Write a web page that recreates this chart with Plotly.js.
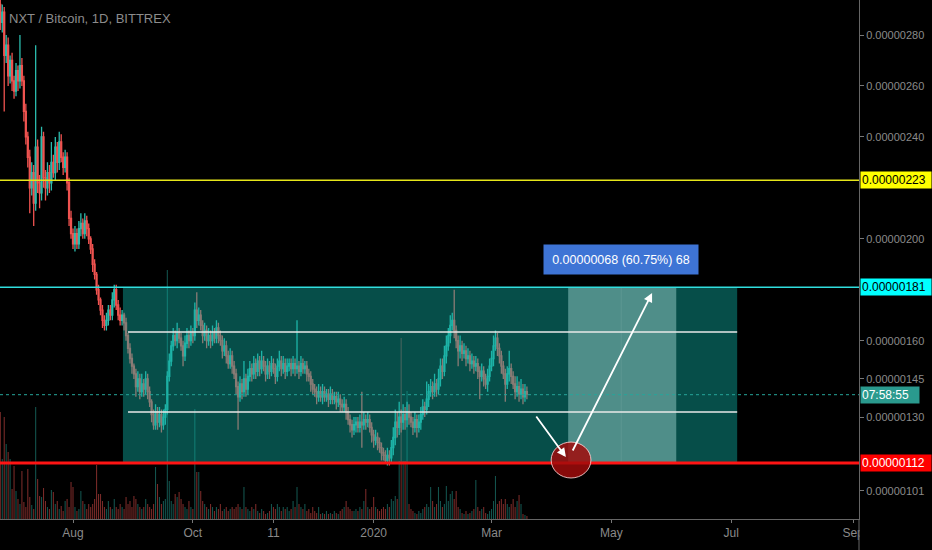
<!DOCTYPE html>
<html><head><meta charset="utf-8">
<script src="https://cdn.plot.ly/plotly-3.0.1.min.js"></script>
<style>html,body{margin:0;padding:0;background:#000;}#chart{width:932px;height:550px;}</style>
</head><body><div id="chart"></div>
<script>
// Daily candles NXT/BTC (values in satoshi), starting 2019-06-25
const startDate = [2019, 5, 25];
const firstOpen = 292;
const closes = [
285,289,272,276,264,270,262,258,266,262,
268,262,250,240,232,220,226,214,236,222,
218,240,224,220,226,222,230,226,236,230,
238,232,228,232,222,208,202,198,202,198,
204,206,202,207,204,200,196,190,186,180,
176,172,168,166,168,172,170,176,180,174,
170,168,170,167,162,157,153,150,147,142,
145,140,143,141,145,140,136,131,127,132,
128,131,127,130,133,146,152,158,162,160,
163,161,158,154,159,162,160,163,162,172,
168,170,166,162,164,160,162,160,163,161,
165,162,160,156,158,154,151,154,150,147,
142,138,143,140,145,141,146,149,147,151,
148,152,149,152,150,147,150,148,151,149,
146,150,152,149,151,148,150,151,149,151,
149,150,148,151,149,150,147,146,143,141,
140,138,140,138,140,138,139,137,139,137,
138,136,137,135,134,135,132,129,127,125,
127,128,126,128,127,129,128,129,126,123,
121,122,120,118,116,115,113,115,114,118,
122,128,126,130,128,131,129,132,130,128,
126,129,126,128,131,134,133,137,140,142,
140,143,141,145,150,148,154,158,162,166,
168,164,160,156,158,155,156,153,154,151,
152,150,151,148,146,148,145,143,146,150,
153,158,161,157,154,150,147,143,147,149,
146,143,140,142,139,141,138,140,139];
const wickHi = [
4,3,2,4,3,2,3,2,3,2,
12,3,2,3,2,3,4,3,40,3,
3,4,2,3,4,3,8,3,4,2,
4,3,2,3,2,2,3,2,3,2,
3,4,2,3,2,2,1,2,2,1,
2,1,2,2,3,2,2,3,2,2,
2,3,2,1,2,1,2,2,1,2,
3,2,4,2,3,2,2,1,2,3,
2,3,2,3,2,2,3,2,3,2,
4,2,2,2,3,3,2,3,2,3,
7,3,2,2,3,2,3,2,3,2,
3,2,2,2,3,2,2,3,2,2,
2,2,3,2,7,2,3,3,2,3,
2,3,2,4,2,2,3,2,3,2,
2,3,4,2,3,2,3,2,2,3,
2,18,2,3,2,2,2,2,2,2,
2,2,3,2,3,2,2,2,3,2,
2,2,3,2,2,3,2,2,2,2,
3,2,2,3,12,3,2,3,2,2,
2,3,2,2,2,2,2,3,2,3,
4,5,4,6,3,4,3,4,3,2,
2,3,2,3,3,3,2,7,3,3,
2,4,2,4,3,3,4,4,3,4,
3,12,2,2,4,2,3,2,3,2,
3,2,3,2,2,3,2,2,3,3,
3,4,3,2,2,2,2,2,3,7,
2,2,3,4,2,4,2,3,2];
const wickLo = [
3,4,22,3,4,3,4,3,2,4,
3,2,4,3,4,10,3,9,3,4,
6,3,4,5,3,4,3,2,3,4,
3,2,3,2,3,3,2,2,3,2,
2,3,2,2,3,2,2,3,2,2,
2,2,3,2,2,2,2,2,3,2,
2,2,2,3,2,2,2,3,2,4,
2,3,2,3,2,3,2,3,2,2,
3,2,3,2,3,2,2,2,2,2,
3,2,2,4,2,2,3,2,3,2,
3,2,2,3,2,3,2,3,2,2,
2,3,2,3,2,3,2,2,3,2,
3,13,2,3,2,3,2,2,3,2,
3,2,3,2,2,3,2,3,2,2,
3,2,2,3,2,3,2,2,3,2,
3,2,3,2,2,2,3,2,3,2,
2,3,2,2,3,2,2,3,2,2,
2,3,2,3,2,2,3,2,3,3,
2,3,2,2,9,2,3,2,2,3,
3,2,3,2,3,2,1,2,3,2,
3,3,4,3,4,3,4,3,3,2,
3,2,4,2,3,2,3,2,3,2,
3,2,3,2,3,3,2,3,2,3,
2,3,3,6,3,3,2,3,2,3,
2,3,2,3,9,2,3,2,3,2,
2,3,2,3,3,3,2,7,2,3,
3,2,3,2,3,2,3,2,2];
const volumes = [
107,60,102,75,67,60,30,53,28,20,
15,48,17,12,50,22,14,10,112,40,
23,22,31,18,12,10,29,27,15,18,
10,13,8,18,20,12,37,32,12,8,
10,28,18,15,10,15,12,15,20,54,
25,25,18,12,10,18,12,10,20,12,
10,15,12,10,22,15,18,12,23,20,
15,12,10,12,20,15,12,10,15,52,
35,22,15,18,20,249,38,18,15,25,
22,27,20,15,12,10,18,12,10,110,
47,47,28,18,15,12,10,15,12,8,
12,10,15,8,10,12,8,10,12,10,
12,15,12,10,32,12,10,8,12,10,
15,8,6,10,8,5,6,8,15,12,
10,15,12,8,12,10,12,8,10,18,
12,32,15,12,10,15,8,10,6,12,
8,6,12,5,6,5,8,5,6,5,
8,6,5,8,10,12,18,12,10,8,
8,10,8,12,10,18,30,12,10,12,
22,12,10,8,10,12,10,15,12,20,
18,23,20,58,181,58,58,128,15,10,
8,6,5,8,6,10,12,15,12,32,
18,12,15,32,18,12,15,33,18,25,
28,20,28,12,10,6,5,8,5,6,
8,10,39,12,8,10,12,6,5,8,
10,18,43,15,18,20,15,20,15,12,
15,20,12,18,24,15,5,4,3];

const yTickVals = [280,260,240,200,160,145,130,101];
const xTickVals = ['2019-08-01','2019-10-01','2019-11-11','2020-01-01','2020-03-01','2020-05-01','2020-07-01','2020-09-01'];
const xTickText = ['Aug','Oct','11','2020','Mar','May','Jul','Sep'];

// drawing levels
const levelYellow = 223, levelCyan = 181, levelRed = 112;
const rangeTop = 163.4, rangeBottom = 132.0, lastPrice = 138.8;

const dates = closes.map((_, i) => new Date(Date.UTC(startDate[0], startDate[1], startDate[2] + i)).toISOString().slice(0, 10));
const opens = closes.map((c, i) => i === 0 ? firstOpen : closes[i - 1]);
const highs = closes.map((c, i) => Math.max(c, opens[i]) + wickHi[i]);
const lows = closes.map((c, i) => Math.min(c, opens[i]) - wickLo[i]);
const volColors = closes.map((c, i) => c >= opens[i] ? 'rgba(38,166,154,0.5)' : 'rgba(239,83,80,0.5)');

const fmt = v => '0.00000' + v;

const traces = [
  {type: 'bar', x: dates, y: volumes, yaxis: 'y2', marker: {color: volColors, line: {width: 0}}, hoverinfo: 'skip'},
  {type: 'candlestick', x: dates, open: opens, high: highs, low: lows, close: closes,
   increasing: {line: {color: '#2bbbad', width: 1.3}, fillcolor: '#2bbbad'},
   decreasing: {line: {color: '#ef5350', width: 1.3}, fillcolor: '#ef5350'},
   whiskerwidth: 0, hoverinfo: 'skip'}
];

const F = 'Liberation Sans, Arial, sans-serif';
const layout = {
  width: 932, height: 550,
  margin: {l: 0, r: 73, t: 0, b: 31},
  paper_bgcolor: '#000', plot_bgcolor: '#000',
  showlegend: false, bargap: 0.45,
  xaxis: {type: 'date', range: ['2019-06-24 20:24', '2020-09-04 00:00'],
    rangeslider: {visible: false}, showgrid: false, zeroline: false,
    tickvals: xTickVals, ticktext: xTickText, ticks: 'outside', ticklen: 3, tickcolor: '#777',
    showline: true, linecolor: '#666', linewidth: 1,
    tickfont: {family: F, size: 12, color: '#8a8a8a'}},
  yaxis: {range: [90.0, 293.74], side: 'right', showgrid: false, zeroline: false,
    tickvals: yTickVals, ticktext: yTickVals.map(fmt), ticks: 'outside', ticklen: 4, tickcolor: '#777',
    showline: true, linecolor: '#666', linewidth: 1,
    tickfont: {family: F, size: 11, color: '#8a8a8a'}},
  yaxis2: {overlaying: 'y', range: [0, 519], visible: false, fixedrange: true},
  shapes: [
    {type: 'rect', layer: 'above', xref: 'x', yref: 'y', x0: '2019-08-26 10:00', x1: '2020-07-04', y0: levelRed, y1: levelCyan, fillcolor: 'rgba(13,173,162,0.45)', line: {width: 0}},
    {type: 'rect', layer: 'above', xref: 'x', yref: 'y', x0: '2020-04-09', x1: '2020-06-03', y0: levelRed, y1: levelCyan, fillcolor: 'rgba(190,240,235,0.4)', line: {width: 0}},
    {type: 'line', layer: 'above', xref: 'x', yref: 'y', x0: '2020-05-06', x1: '2020-05-06', y0: levelRed, y1: levelCyan, line: {color: 'rgba(255,255,255,0.08)', width: 1}},
    {type: 'line', layer: 'above', xref: 'x', yref: 'y', x0: '2019-08-29', x1: '2020-07-04', y0: rangeTop, y1: rangeTop, line: {color: '#e8e8e8', width: 1.5}},
    {type: 'line', layer: 'above', xref: 'x', yref: 'y', x0: '2019-08-29', x1: '2020-07-04', y0: rangeBottom, y1: rangeBottom, line: {color: '#e8e8e8', width: 1.5}},
    {type: 'line', layer: 'above', xref: 'paper', yref: 'y', x0: 0, x1: 1, y0: lastPrice, y1: lastPrice, line: {color: '#26a69a', width: 1, dash: 'dot'}},
    {type: 'line', layer: 'above', xref: 'paper', yref: 'y', x0: 0, x1: 1, y0: levelYellow, y1: levelYellow, line: {color: '#e6e61a', width: 1.5}},
    {type: 'line', layer: 'above', xref: 'paper', yref: 'y', x0: 0, x1: 1, y0: levelCyan, y1: levelCyan, line: {color: '#30dede', width: 1.5}},
    {type: 'line', layer: 'above', xref: 'paper', yref: 'y', x0: 0, x1: 1, y0: levelRed, y1: levelRed, line: {color: '#ff1414', width: 3}},
    {type: 'circle', layer: 'above', xref: 'x', yref: 'y', x0: '2020-03-31 08:00', x1: '2020-04-20 14:00', y0: 106.1, y1: 120.2, fillcolor: 'rgba(160,12,12,0.85)', line: {color: 'rgba(255,210,210,0.85)', width: 1}},
    {type: 'rect', layer: 'above', xref: 'paper', yref: 'paper', x0: 1.001, x1: 1.1, y0: -0.065, y1: -0.002, fillcolor: '#000', line: {width: 0}},
    {type: 'line', layer: 'above', xref: 'paper', yref: 'paper', x0: 1, x1: 1, y0: -0.065, y1: 0, line: {color: '#666', width: 1}}
  ],
  annotations: [
    {xref: 'paper', yref: 'paper', x: 0.008, y: 0.9634, xanchor: 'left', yanchor: 'middle', showarrow: false,
     text: 'NXT / Bitcoin, 1D, BITTREX', font: {family: F, size: 13, color: '#8c8c8c'}},
    {xref: 'x', yref: 'y', x: '2020-05-06', y: 192, showarrow: false, text: '0.00000068 (60.75%) 68',
     bgcolor: '#3e74d5', font: {family: F, size: 12.5, color: '#ffffff'}, width: 146, height: 21, borderpad: 4},
    {xref: 'x', yref: 'y', x: '2020-05-21 17:00', y: 178.7, axref: 'x', ayref: 'y', ax: '2020-04-10 22:00', ay: 116.3,
     showarrow: true, arrowhead: 2, arrowsize: 1, arrowwidth: 1.8, arrowcolor: '#ffffff', text: '', standoff: 0},
    {xref: 'x', yref: 'y', x: '2020-04-07 20:00', y: 114.3, axref: 'x', ayref: 'y', ax: '2020-03-23 05:00', ay: 130.8,
     showarrow: true, arrowhead: 2, arrowsize: 1, arrowwidth: 1.8, arrowcolor: '#ffffff', text: '', standoff: 0},
    {xref: 'paper', yref: 'y', x: 1, xanchor: 'left', xshift: 1, y: levelYellow, showarrow: false, text: fmt(levelYellow),
     bgcolor: '#ffff00', font: {family: F, size: 12, color: '#000'}, width: 68, height: 14, align: 'left', borderpad: 1},
    {xref: 'paper', yref: 'y', x: 1, xanchor: 'left', xshift: 1, y: levelCyan, showarrow: false, text: fmt(levelCyan),
     bgcolor: '#00ffff', font: {family: F, size: 12, color: '#000'}, width: 68, height: 14, align: 'left', borderpad: 1},
    {xref: 'paper', yref: 'y', x: 1, xanchor: 'left', xshift: 1, y: levelRed, showarrow: false, text: fmt(levelRed),
     bgcolor: '#ff0000', font: {family: F, size: 12, color: '#fff'}, width: 68, height: 14, align: 'left', borderpad: 1},
    {xref: 'paper', yref: 'y', x: 1, xanchor: 'left', xshift: 1, y: lastPrice, showarrow: false, text: '07:58:55',
     bgcolor: '#2a9a8e', font: {family: F, size: 12, color: '#fff'}, width: 56, height: 14, align: 'left', borderpad: 1}
  ]
};

Plotly.newPlot('chart', traces, layout, {displayModeBar: false, staticPlot: true});
</script>
</body></html>
